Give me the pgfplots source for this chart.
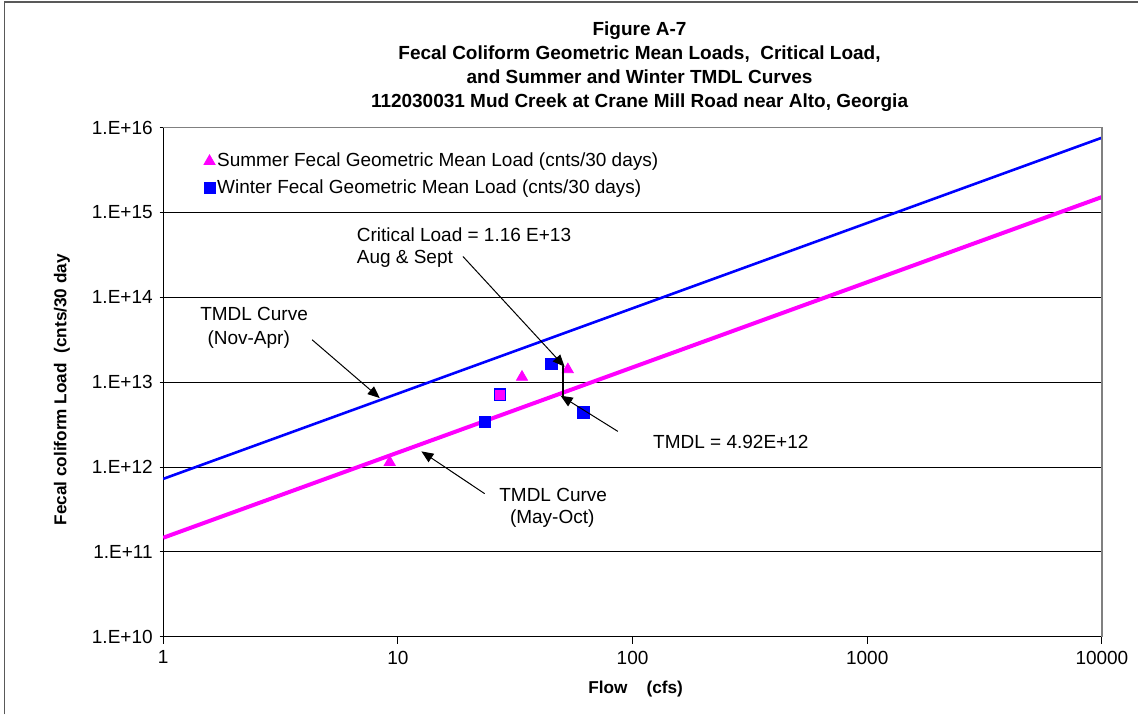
\documentclass[border=0pt]{standalone}
\usepackage{fontspec}
\setmainfont{Liberation Sans}
\usepackage{pgfplots}
\pgfplotsset{compat=1.18}
\usetikzlibrary{arrows.meta}
\definecolor{mag}{RGB}{255,0,255}
\definecolor{blu}{RGB}{0,0,255}
\newcommand{\fs}{\fontsize{9.5}{11.5}\selectfont}
\newcommand{\fb}{\fontsize{9.5}{12}\selectfont\bfseries}
\newcommand{\fl}{\fontsize{8.6}{10}\selectfont\bfseries}

\begin{document}
\begin{tikzpicture}
\begin{scope}[x=0.5pt,y=-0.5pt,shift={(-163.3,-637.3)}]
\path[use as bounding box] (0,0) rectangle (1139,715);
\end{scope}
\begin{axis}[
  at={(0,0)}, anchor=south west,
  scale only axis, width=469.7pt, height=254.8pt,
  xmode=log, ymode=log,
  xmin=1, xmax=10000, ymin=1e10, ymax=1e16,
  axis lines=left, axis line style={-, black, line width=0.6pt},
  xtick={1,10,100,1000,10000}, xticklabels={1,10,100,1000,10000},
  ytick={1e10,1e11,1e12,1e13,1e14,1e15,1e16},
  yticklabels={1.E+10,1.E+11,1.E+12,1.E+13,1.E+14,1.E+15,1.E+16},
  xminorticks=false, yminorticks=false,
  ymajorgrids, major grid style={black, line width=0.5pt},
  xtick align=outside, ytick align=center, major tick length=3.5pt,
  tick style={black, line width=0.5pt},
  ticklabel style={font=\fs},
  legend style={at={(0.043,0.955)}, anchor=north west, draw=none, fill=none,
    font=\fs, row sep=3pt, inner sep=0pt, nodes={inner sep=1pt}},
  legend cell align=left,
  legend image code/.code={\draw[#1] plot coordinates {(0.2cm,0cm)};},
]
\addplot[blu, line width=1.3pt, forget plot] coordinates {(1,7.26e11) (10000,7.6e15)};
\addplot[mag, line width=2pt, forget plot] coordinates {(1,1.47e11) (10000,1.52e15)};
\addplot[only marks, mark=triangle*, mark size=3.2pt, mag, mark options={draw=mag, fill=mag}]
  coordinates {(9.23,1.14e12) (33.8,1.15e13) (53.0,1.41e13)};
\addlegendentry{Summer Fecal Geometric Mean Load (cnts/30 days)}
\addplot[only marks, mark=square*, mark size=2.8pt, blu, mark options={draw=blu, fill=blu}]
  coordinates {(23.4,3.40e12) (45.1,1.66e13) (61.8,4.42e12)};
\addlegendentry{Winter Fecal Geometric Mean Load (cnts/30 days)}
\addplot[only marks, mark=square*, mark size=2.8pt, forget plot, mark options={draw=blu, fill=mag, line width=0.6pt}]
  coordinates {(27.2,7.14e12)};
\end{axis}
\begin{scope}[x=0.5pt,y=-0.5pt,shift={(-163.3,-637.3)}]
  % frame
  \draw[gray!70!black, line width=0.8pt] (4.5,715) -- (4.5,2) -- (1139,2);
  % top and right plot border
  \draw[gray, line width=0.6pt] (163.3,127.7) -- (1102.7,127.7) -- (1102.7,637.3);
  % title
  \node[align=center, font=\fb] at (640,67) {Figure A-7\\Fecal Coliform Geometric Mean Loads,\ \ Critical Load,\\and Summer and Winter TMDL Curves\\112030031 Mud Creek at Crane Mill Road near Alto, Georgia};
  % axis labels
  \node[font=\fl] at (636,690) {Flow\ \ \ \ (cfs)};
  \node[font=\fl, rotate=90] at (62,390) {Fecal coliform Load\ \ (cnts/30 day};
  % annotations
  \node[font=\fs, anchor=west, inner sep=0pt] at (356.7,235) {Critical Load = 1.16 E+13};
  \node[font=\fs, anchor=west, inner sep=0pt] at (356.7,259.3) {Aug \& Sept};
  \node[font=\fs, anchor=west, inner sep=0pt] at (200,314.3) {TMDL Curve};
  \node[font=\fs, anchor=west, inner sep=0pt] at (207.3,340) {(Nov-Apr)};
  \node[font=\fs, anchor=west, inner sep=0pt] at (499.3,495) {TMDL Curve};
  \node[font=\fs, anchor=west, inner sep=0pt] at (510,519.3) {(May-Oct)};
  \node[font=\fs, anchor=west, inner sep=0pt] at (653.3,442.7) {TMDL = 4.92E+12};
  \begin{scope}[line width=0.5pt, -{Triangle[length=6pt,width=5pt]}]
    \draw (312.3,340) -- (380,398.3);
    \draw (485,494) -- (421.7,451.7);
    \draw (463.3,256.7) -- (565,367);
    \draw (618.3,431.7) -- (561,396);
  \end{scope}
  \draw[line width=0.6pt] (563.3,366.7) -- (563.3,396);
\end{scope}
\end{tikzpicture}
\end{document}
